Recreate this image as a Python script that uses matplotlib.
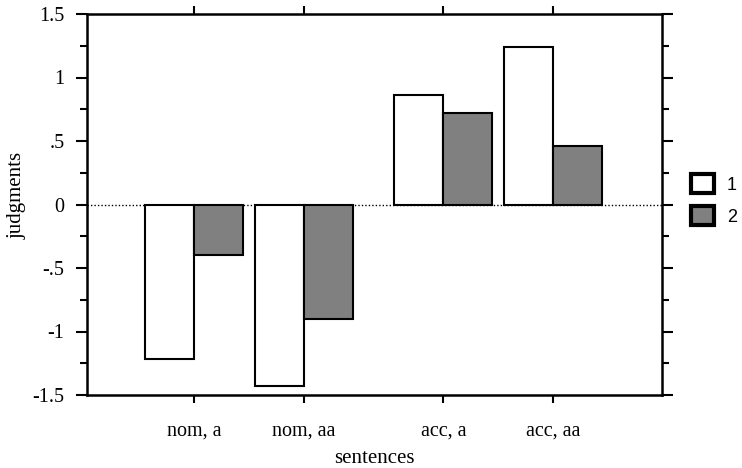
import matplotlib
matplotlib.use("Agg")
import matplotlib.pyplot as plt
from matplotlib.patches import Patch
from matplotlib.ticker import MultipleLocator, FixedFormatter, FixedLocator
import numpy as np

categories = ["nom, a", "nom, aa", "acc, a", "acc, aa"]
series_names = ["1", "2"]
values_1 = [-1.215, -1.433, 0.866, 1.242]
values_2 = [-0.40, -0.898, 0.722, 0.459]
ytick_vals = [-1.5, -1, -0.5, 0, 0.5, 1, 1.5]
ytick_labels = ["-1.5", "-1", "-.5", "0", ".5", "1", "1.5"]

W, H = 742, 468
fig = plt.figure(figsize=(W / 100, H / 100), dpi=100)
ax = fig.add_axes([86.7 / W, 1 - 395 / H, (662 - 86.7) / W, (395 - 14) / H])

serif = ["Liberation Serif", "DejaVu Serif"]
sans = ["Liberation Sans", "DejaVu Sans"]

# group positions: gap between nom and acc groups
idx = np.arange(len(categories))
x = idx + 0.27 * (idx >= 2)
bw = 0.445

ax.bar(x - bw / 2, values_1, width=bw, color="white", edgecolor="black", linewidth=1.5, zorder=3)
ax.bar(x + bw / 2, values_2, width=bw, color="#808080", edgecolor="black", linewidth=1.5, zorder=3)
ax.axhline(0, color="black", linestyle=(0, (1, 1.5)), linewidth=1.0, zorder=2)

ax.set_xlim(x[0] - 0.975, x[-1] + 0.99)
ax.set_ylim(-1.5, 1.5)

ax.yaxis.set_major_locator(FixedLocator(ytick_vals))
ax.yaxis.set_major_formatter(FixedFormatter(ytick_labels))
ax.yaxis.set_minor_locator(MultipleLocator(0.25))
ax.set_xticks(x)
ax.set_xticklabels(categories)

ax.tick_params(axis="y", which="major", direction="out", length=8, width=1.5,
               left=True, right=True, labelleft=True, labelright=False, pad=8)
ax.tick_params(axis="y", which="minor", direction="out", length=5, width=1.5,
               left=True, right=True)
ax.tick_params(axis="x", which="major", direction="out", length=6, width=1.5,
               bottom=True, top=True, pad=13)
for lab in ax.get_xticklabels() + ax.get_yticklabels():
    lab.set_fontfamily(serif)
    lab.set_fontsize(14.5)

for s in ax.spines.values():
    s.set_linewidth(1.8)

ax.set_xlabel("sentences", fontfamily=serif, fontsize=15, labelpad=6)
ax.set_ylabel("judgments", fontfamily=serif, fontsize=15)
ax.yaxis.set_label_coords(-0.104, 0.525)

handles = [Patch(facecolor="white", edgecolor="black", linewidth=3),
           Patch(facecolor="#808080", edgecolor="black", linewidth=3)]
leg = fig.legend(handles, series_names, loc="upper left",
                 bbox_to_anchor=(691 / W, 1 - 174 / H), bbox_transform=fig.transFigure,
                 frameon=False, borderpad=0, borderaxespad=0,
                 handlelength=1.25, handleheight=1.25, handletextpad=0.75,
                 labelspacing=0.7, prop={"family": sans, "size": 13})

fig.savefig("out.png", dpi=100)
